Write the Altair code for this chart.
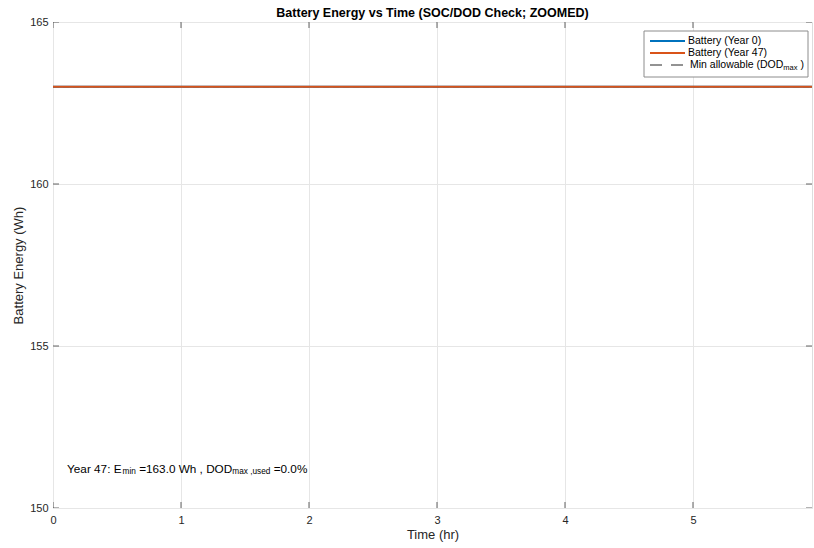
import altair as alt
import pandas as pd

# ---- data ----
time_hr = [0.0, 5.93]
energy_year0 = [163.0, 163.0]
energy_year47 = [163.0, 163.0]
energy_min_allow = [163.0, 163.0]
x_ticks = [0, 1, 2, 3, 4, 5]
y_ticks = [150, 155, 160, 165]
series_names = ["Battery (Year 0)", "Battery (Year 47)", "Min allowable (DOD_max)"]
series_colors = ["#0072BD", "#D95319", "#262626"]
annot_x, annot_y = 0.11, 151.2

X_MIN, X_MAX = 0.0, 5.93
Y_MIN, Y_MAX = 150, 165
FONT = "Liberation Sans"
INK = "#262626"

W, H = 759, 486

xs = alt.Scale(domain=[X_MIN, X_MAX], nice=False, zero=False)
ys = alt.Scale(domain=[Y_MIN, Y_MAX], nice=False, zero=False)

x_axis = alt.Axis(values=x_ticks, title="Time (hr)", grid=True, gridColor="#e6e6e6",
                  tickSize=0, domain=False, labelPadding=6, labelFontSize=11,
                  titleFontSize=13, titleFontWeight="normal", titlePadding=3,
                  labelColor=INK, titleColor=INK, format="d", labelFlush=False)
y_axis = alt.Axis(values=y_ticks, title="Battery Energy (Wh)", grid=True, gridColor="#e6e6e6",
                  tickSize=0, domain=False, labelPadding=5, labelFontSize=11,
                  titleFontSize=13, titleFontWeight="normal", labelColor=INK, titleColor=INK,
                  format="d", titleX=-35, titleY=H / 2, titleBaseline="middle",
                  titleAlign="center", titleAngle=270)


def series_df(name, vals):
    return pd.DataFrame({"time": time_hr, "energy": vals, "series": name})


def line_layer(name, vals, color, dash=None):
    kw = dict(strokeWidth=2, color=color, clip=True)
    if dash:
        kw["strokeDash"] = dash
        kw["strokeWidth"] = 1
    return alt.Chart(series_df(name, vals)).mark_line(**kw).encode(
        x=alt.X("time:Q", scale=xs, axis=x_axis),
        y=alt.Y("energy:Q", scale=ys, axis=y_axis),
    )


min_line = line_layer(series_names[2], energy_min_allow, series_colors[2], dash=[6, 4])
y0_line = line_layer(series_names[0], energy_year0, series_colors[0])
y47_line = line_layer(series_names[1], energy_year47, series_colors[1])

# inward ticks (MATLAB style), clipped to the plot area
xt = pd.DataFrame({"v": x_ticks})
yt = pd.DataFrame({"v": y_ticks})
tick_kw = dict(size=12, thickness=1, color=INK, clip=True)
ticks = []
for yv in (Y_MIN, Y_MAX):
    ticks.append(alt.Chart(xt).mark_tick(orient="vertical", **tick_kw).encode(
        x=alt.X("v:Q", scale=xs, axis=x_axis), y=alt.YDatum(yv, axis=y_axis)))
for xv in (X_MIN, X_MAX):
    ticks.append(alt.Chart(yt).mark_tick(orient="horizontal", **tick_kw).encode(
        y=alt.Y("v:Q", scale=ys, axis=y_axis), x=alt.XDatum(xv, axis=x_axis)))

# annotation with subscripts (no leading spaces: SVG collapses them)
annot_parts = [
    ("Year 47: E", 0, 11.75, 0),
    ("min", 55.5, 8.25, 3),
    ("=163.0 Wh , DOD", 72.1, 11.75, 0),
    ("max ,used", 165.2, 8.25, 3),
    ("=0.0%", 206.6, 11.75, 0),
]
one = pd.DataFrame({"a": [0]})
annots = []
for txt, dx, fs, dy in annot_parts:
    annots.append(alt.Chart(one).mark_text(text=txt, align="left", baseline="middle",
                                           dx=dx, dy=dy, fontSize=fs, font=FONT, color="black").encode(
        x=alt.XDatum(annot_x, axis=x_axis), y=alt.YDatum(annot_y, axis=y_axis)))

# legend box (layout in pixels)
LX0, LX1, LY0, LY1 = 591, 755, 9, 55
legend_box = alt.Chart(one).mark_rect(fill="white", stroke="#8c8c8c", strokeWidth=1).encode(
    x=alt.value(LX0), x2=alt.value(LX1), y=alt.value(LY0), y2=alt.value(LY1))
leg = [legend_box]
row_y = [19, 31, 43]
for i, (name, col) in enumerate(zip(series_names, series_colors)):
    kw = dict(color=col, strokeWidth=2)
    if i == 2:
        kw = dict(color=col, strokeWidth=1, strokeDash=[12, 9])
    leg.append(alt.Chart(one).mark_rule(**kw).encode(
        x=alt.value(597), x2=alt.value(632), y=alt.value(row_y[i])))
leg_text = [
    ("Battery (Year 0)", 635, 10.5, 0, 0),
    ("Battery (Year 47)", 635, 10.5, 0, 1),
    ("Min allowable (DOD", 637, 10.5, 0, 2),
    ("max", 730.3, 7.5, 3, 2),
    (")", 747.4, 10.5, 0, 2),
]
for txt, px, fs, dy, r in leg_text:
    leg.append(alt.Chart(one).mark_text(text=txt, align="left", baseline="middle", dy=dy,
                                        fontSize=fs, font=FONT, color="black").encode(
        x=alt.value(px), y=alt.value(row_y[r])))

chart = alt.layer(min_line, y0_line, y47_line, *ticks, *annots, *leg).properties(
    width=W, height=H,
    title=alt.TitleParams("Battery Energy vs Time (SOC/DOD Check; ZOOMED)", fontSize=12.5,
                          fontWeight="bold", font=FONT, color="black", anchor="middle",
                          offset=2, dy=5),
    padding={"left": 53, "top": 22, "right": 2, "bottom": 40},
    autosize=alt.AutoSizeParams(type="none"),
).configure_view(stroke="#404040", strokeWidth=1).configure_axis(
    labelFont=FONT, titleFont=FONT
).configure(background="white")

chart.save("out.html", embed_options={"renderer": "svg", "actions": False})
